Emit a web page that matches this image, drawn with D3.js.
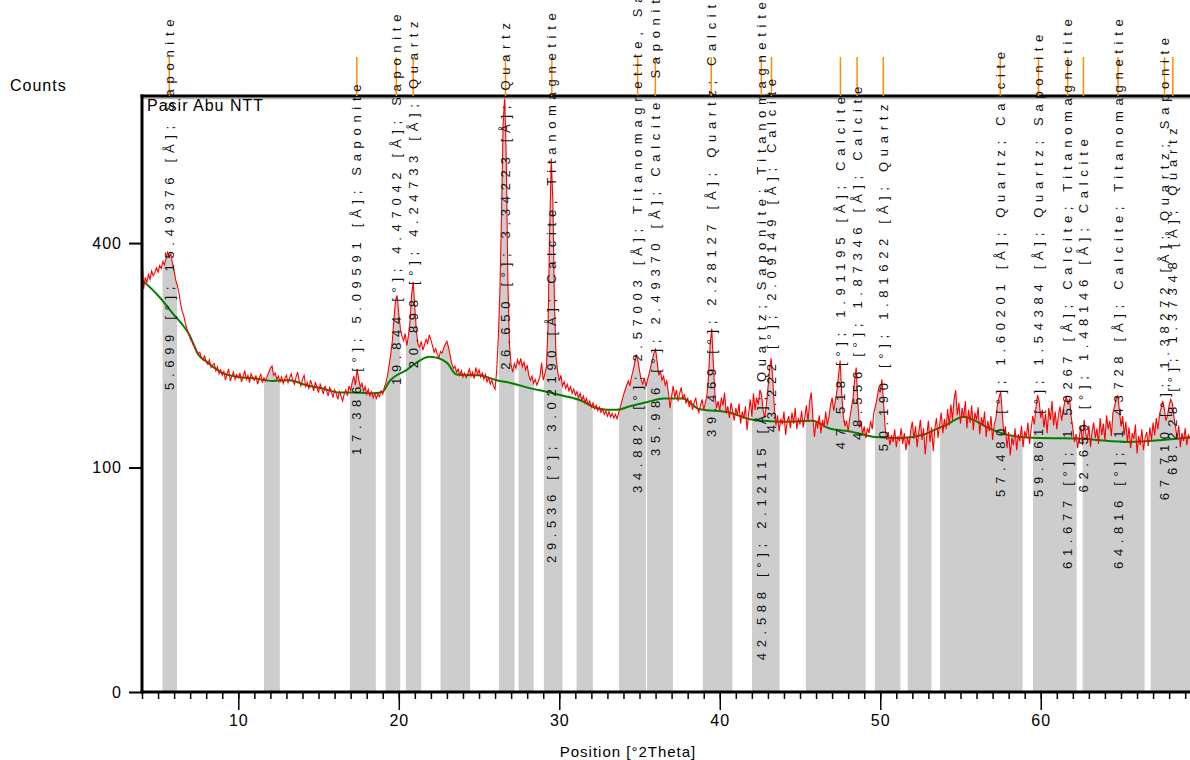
<!DOCTYPE html>
<html>
<head>
<meta charset="utf-8">
<script src="https://cdn.jsdelivr.net/npm/d3@7"></script>
<style>
body { margin: 0; background: #fff; }
svg { font-family: "Liberation Sans", Arial, sans-serif; }
</style>
</head>
<body>
<div id="chart"></div>
<script>
// measured scan, 4.0 to 69.3 °2Theta in 0.1 steps
let scanStart = 4.0;
let scanStep = 0.1;
let counts = [
  378,322,341,333,346,338,352,344,349,357,
  350,361,356,368,362,373,384,376,381,364,
  352,337,328,316,300,288,281,270,262,255,
  248,244,239,236,231,227,229,222,219,224,
  216,213,219,209,212,214,205,210,201,206,
  199,204,193,201,207,192,198,203,194,200,
  196,202,191,197,205,194,199,190,201,196,
  193,199,188,195,201,190,196,192,198,203,
  208,211,199,202,194,198,191,197,189,195,
  199,190,196,201,192,188,197,203,191,186,
  194,199,185,190,182,193,187,180,191,184,
  178,188,183,176,186,180,174,184,179,172,
  181,177,170,179,174,168,176,181,174,186,
  180,191,198,187,207,195,184,190,179,185,
  176,182,174,179,172,177,171,176,173,180,
  176,184,190,199,212,227,245,276,305,312,
  284,262,251,245,255,238,252,273,313,334,
  292,258,240,236,244,232,239,247,241,253,
  246,238,229,234,226,222,230,228,235,240,
  244,236,225,214,208,211,203,207,199,205,
  197,202,196,201,207,198,203,195,209,200,
  206,197,202,194,200,191,196,188,193,186,
  182,205,248,320,450,640,705,560,330,238,
  212,203,214,208,219,213,221,210,216,206,
  212,199,193,198,189,194,187,192,198,215,
  193,201,210,265,420,565,480,300,222,204,
  192,199,186,191,183,188,180,185,177,182,
  175,179,172,177,169,174,166,171,164,168,
  161,166,159,163,157,161,155,159,153,157,
  151,156,150,154,149,153,148,155,161,168,
  175,181,187,192,186,197,205,215,226,218,
  205,193,188,196,185,194,201,210,219,228,
  233,216,199,205,193,198,187,192,178,160,
  174,186,172,181,168,177,184,170,176,165,
  172,161,169,158,166,172,160,155,163,170,
  158,166,175,198,240,262,214,176,160,168,
  157,172,163,178,154,162,149,166,157,146,
  160,152,165,143,156,148,162,136,154,170,
  150,177,158,172,164,181,176,158,149,163,
  183,205,221,196,160,141,152,135,148,142,
  156,131,145,151,138,155,143,160,137,149,
  142,157,139,150,163,145,168,178,150,129,
  146,138,152,133,147,139,156,141,150,163,
  172,157,168,180,199,218,176,151,140,146,
  135,149,160,171,192,209,168,139,145,132,
  140,128,138,133,146,137,155,162,171,183,
  178,194,168,140,126,134,121,131,124,137,
  119,130,125,138,122,133,116,129,121,136,
  145,127,140,119,134,147,126,138,112,131,
  146,124,139,115,137,149,128,142,155,133,
  148,137,159,141,164,147,170,181,152,166,
  143,160,149,168,138,158,144,163,136,155,
  147,161,132,150,141,156,129,146,135,151,
  126,142,148,163,172,179,155,131,140,118,
  134,111,129,121,138,116,132,125,141,119,
  135,128,144,122,137,151,142,160,175,168,
  149,158,139,154,133,160,147,168,141,156,
  137,152,162,146,158,167,173,164,171,150,
  138,124,132,118,129,140,121,147,133,126,
  141,119,135,144,128,138,122,149,131,143,
  125,152,137,146,130,155,162,171,174,158,
  140,151,131,145,124,139,118,133,127,142,
  113,130,121,137,116,128,134,120,139,126,
  144,131,149,137,153,160,168,159,146,152,
  163,170,165,150,139,128,141,119,133,125,
  138,121,131,127
];

// fitted background
let bgPos = [4.0,5.0,5.9,7.0,7.5,8.0,9.0,10.0,11.1,12.1,13.2,14.2,15.2,16.3,17.3,18.4,19.0,19.4,20.5,21.3,21.9,22.5,23.0,23.6,25.0,26.1,27.1,28.2,29.2,30.3,31.3,32.3,33.0,33.6,34.4,35.5,36.5,37.7,38.7,40.6,41.8,42.7,44.1,45.8,46.8,48.2,49.7,51.3,52.6,53.6,54.1,55.2,55.8,56.8,58.3,59.9,62.4,63.5,65.5,67.6,69.3];
let bgCounts = [337,312,285,251,226,217,202,197,195,192,193,187,183,178,178,177,179,191,206,218,223,221,215,200,199,193,189,183,179,174,169,160,158,158,162,167,171,171,159,155,148,146,145,146,138,134.5,129,128,131,138,141.5,150.5,147,138,130,128,127.6,126,124,126,128.8];

// shaded ranges
let bandStart = [5.28,11.60,16.95,19.18,20.45,22.60,26.24,27.46,29.04,31.08,33.72,35.47,38.94,42.01,45.36,49.67,51.71,53.73,59.52,62.61,66.85];
let bandEnd   = [6.18,12.59,18.57,20.09,21.40,24.45,27.21,28.41,30.20,32.09,35.40,37.08,40.79,43.73,49.09,51.26,53.19,58.87,62.24,66.47,69.30];

// peak list
let peakPos = [5.699,17.386,19.844,20.898,26.650,29.536,34.882,35.986,39.469,42.588,43.222,47.518,48.556,50.190,57.480,59.861,61.677,62.659,64.816,67.710,68.228];
let peakD = ["15.49376","5.09591","4.47042","4.24733","3.34223","3.02190","2.57003","2.49370","2.28127","2.12115","2.09149","1.91195","1.87346","1.81622","1.60201","1.54384","1.50267","1.48146","1.43728","1.38272","1.37348"];
let peakPhase = ["Saponite","Saponite","Saponite","Quartz","Quartz","Calcite, Titanomagnetite","Titanomagnetite, Saponite","Calcite; Saponite","Quartz; Calcite","Quartz; Saponite; Titanomagnetite","Calcite","Calcite","Calcite","Quartz","Quartz; Calcite","Quartz; Saponite","Calcite; Titanomagnetite","Calcite","Calcite; Titanomagnetite","Quartz; Saponite","Quartz"];

let xTicks = [10,20,30,40,50,60];
let yTicks = [0,100,400];

//svg size
let svgWidth = 1190;
let svgHeight = 760;
let plot = {left: 142, right: 1190, top: 96, bottom: 692};

let svg = d3.select('#chart')
            .append('svg')
            .attr('width', svgWidth)
            .attr('height', svgHeight);

let xScale = d3.scaleLinear()
               .domain([4.0, 69.3])
               .range([plot.left, plot.right]);
let yScale = d3.scaleSqrt()
               .domain([0, 705])
               .range([plot.bottom, plot.top]);

let scan = counts.map((c, i) => ({pos: scanStart + i * scanStep, c: c}));
let bg = bgPos.map((p, i) => ({pos: p, c: bgCounts[i]}));

//clip for the shaded ranges
let defs = svg.append('defs');
let bandClip = defs.append('clipPath').attr('id', 'bands');
bandStart.forEach((s, i) => {
    bandClip.append('rect')
        .attr('x', xScale(s))
        .attr('y', plot.top)
        .attr('width', xScale(bandEnd[i]) - xScale(s))
        .attr('height', plot.bottom - plot.top);
});
defs.append('clipPath').attr('id', 'plotArea')
    .append('rect')
    .attr('x', plot.left).attr('y', plot.top - 1)
    .attr('width', plot.right - plot.left).attr('height', plot.bottom - plot.top + 1);

let area = d3.area()
             .x(d => xScale(d.pos))
             .y0(yScale(0))
             .y1(d => yScale(d.c));

svg.append('path')
   .datum(scan)
   .attr('d', area)
   .attr('fill', '#cdcdcd')
   .attr('clip-path', 'url(#bands)');

let plotGroup = svg.append('g').attr('clip-path', 'url(#plotArea)');

//background curve
plotGroup.append('path')
   .datum(bg)
   .attr('d', d3.line().x(d => xScale(d.pos)).y(d => yScale(d.c)).curve(d3.curveMonotoneX))
   .attr('fill', 'none')
   .attr('stroke', '#008000')
   .attr('stroke-width', 2);

//scan line
plotGroup.append('path')
   .datum(scan)
   .attr('d', d3.line().x(d => xScale(d.pos)).y(d => yScale(d.c)))
   .attr('fill', 'none')
   .attr('stroke', '#ff0000')
   .attr('stroke-width', 1.1);

//frame at top
svg.append('line')
   .attr('x1', plot.left).attr('x2', plot.right)
   .attr('y1', plot.top + 2.5).attr('y2', plot.top + 2.5)
   .attr('stroke', '#b0b0b0').attr('stroke-width', 1.5);
svg.append('line')
   .attr('x1', plot.left - 1.5).attr('x2', plot.right)
   .attr('y1', plot.top).attr('y2', plot.top)
   .attr('stroke', '#000').attr('stroke-width', 3);

//axes
let xMinor = d3.axisBottom(xScale)
               .tickValues(d3.range(4, 70, 1))
               .tickSize(7)
               .tickFormat('');
let xMajor = d3.axisBottom(xScale)
               .tickValues(xTicks)
               .tickSize(18)
               .tickPadding(5)
               .tickFormat(d3.format('d'));
let yAxis = d3.axisLeft(yScale)
              .tickValues(yTicks)
              .tickSize(13)
              .tickPadding(7);

let gxMinor = svg.append('g')
   .attr('transform', `translate(0, ${plot.bottom})`)
   .call(xMinor);
gxMinor.selectAll('line').attr('stroke', '#000').attr('stroke-width', 1.5);
gxMinor.select('.domain').remove();

let gx = svg.append('g')
   .attr('transform', `translate(0, ${plot.bottom})`)
   .call(xMajor);
gx.select('.domain').attr('stroke-width', 3).attr('d', `M${plot.left - 1.5},0H${plot.right}`);
gx.selectAll('line').attr('stroke-width', 1.5);
gx.selectAll('text')
  .attr('font-size', 16)
  .attr('letter-spacing', 1)
  .attr('fill', '#000')
  .attr('font-family', '"Liberation Sans", Arial, sans-serif');

let gy = svg.append('g')
   .attr('transform', `translate(${plot.left}, 0)`)
   .call(yAxis);
gy.select('.domain').attr('stroke-width', 3).attr('d', `M0,${plot.bottom + 1.5}V${plot.top - 1.5}`);
gy.selectAll('line').attr('stroke-width', 2);
gy.selectAll('text')
  .attr('font-size', 16)
  .attr('letter-spacing', 1)
  .attr('fill', '#000')
  .attr('font-family', '"Liberation Sans", Arial, sans-serif');

//peak markers above the frame
svg.selectAll('.marker')
   .data(peakPos)
   .enter()
   .append('line')
   .attr('x1', d => xScale(d)).attr('x2', d => xScale(d))
   .attr('y1', 57).attr('y2', plot.top)
   .attr('stroke', '#ff8c00')
   .attr('stroke-width', 1.5);

//where each peak label starts, in counts
let labelFloor = [181,111.5,187,208,206,33,78.6,110.5,129,2,134,117,126,115,75.5,75.5,30,79,30,73,93.5];

svg.selectAll('.peakLabel')
   .data(peakPos)
   .enter()
   .append('text')
   .attr('transform', (d, i) => `translate(${xScale(d) + 4.5}, ${yScale(labelFloor[i])}) rotate(-90)`)
   .attr('font-size', 13)
   .attr('letter-spacing', 5.7)
   .attr('fill', '#111')
   .text((d, i) => `${d.toFixed(3)} [°]; ${peakD[i]} [Å]; ${peakPhase[i]}`);

//titles
svg.append('text')
   .attr('x', 10).attr('y', 91)
   .attr('font-size', 16)
   .attr('letter-spacing', 1)
   .text('Counts');
svg.append('text')
   .attr('x', 147).attr('y', 110.5)
   .attr('font-size', 16)
   .attr('letter-spacing', 1)
   .text('Pasir Abu NTT');
svg.append('text')
   .attr('x', 628).attr('y', 757)
   .attr('text-anchor', 'middle')
   .attr('font-size', 15)
   .attr('letter-spacing', 1)
   .text('Position [°2Theta]');
</script>
</body>
</html>
